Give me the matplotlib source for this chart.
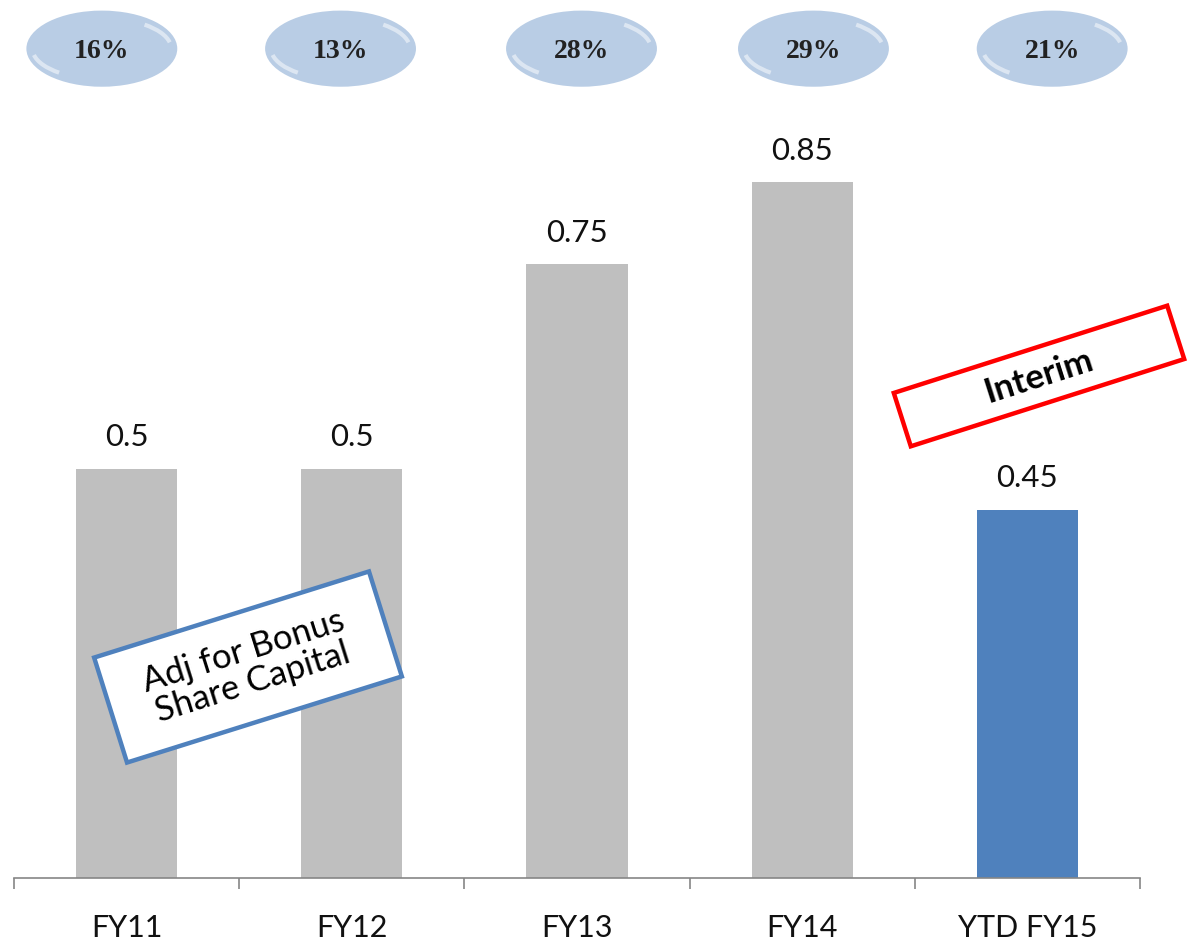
import numpy as np
import matplotlib
matplotlib.use("Agg")
import matplotlib.pyplot as plt
from matplotlib.patches import Ellipse, Arc, Rectangle
from matplotlib.transforms import Affine2D

# dividend per share by year, with growth shown in the bubbles on top
years = ["FY11", "FY12", "FY13", "FY14", "YTD FY15"]
dps = [0.5, 0.5, 0.75, 0.85, 0.45]
dps_labels = ["0.5", "0.5", "0.75", "0.85", "0.45"]
growth = ["16%", "13%", "28%", "29%", "21%"]

bar_colors = ["#BFBFBF", "#BFBFBF", "#BFBFBF", "#BFBFBF", "#4F81BD"]
bubble_shift = [-0.11, -0.05, 0.02, 0.05, 0.11]

W, H = 1191, 952
fig = plt.figure(figsize=(W / 100, H / 100), dpi=100)
ax = fig.add_axes([14 / W, 74 / H, 1126 / W, 876 / H])

x = np.arange(len(years))
ax.bar(x, dps, width=0.45, color=bar_colors, zorder=2)
ax.set_xlim(-0.5, len(years) - 0.5)
ax.set_ylim(0, 1.07)

for xi, v, lab in zip(x, dps, dps_labels):
    ax.text(xi, v + 0.021, lab, ha="center", va="bottom",
            fontsize=22.5, family="Lato", color="#111111")

# growth bubbles
bw, bh, by = 0.67, 0.093, 1.013
gw, gh = bw * 0.92, bh * 0.8
for xi, s, g in zip(x, bubble_shift, growth):
    cx = xi + s
    ax.add_patch(Ellipse((cx, by), bw, bh, facecolor="#B9CDE5",
                         edgecolor="none", clip_on=False, zorder=3))
    # soft gloss along the upper right and lower left rims;
    # Arc wants polar angles in data units, so convert from the
    # ellipse parameter t
    for t1, t2 in [(12, 52), (192, 232)]:
        th1 = np.degrees(np.arctan2(gh * np.sin(np.radians(t1)),
                                    gw * np.cos(np.radians(t1))))
        th2 = np.degrees(np.arctan2(gh * np.sin(np.radians(t2)),
                                    gw * np.cos(np.radians(t2))))
        ax.add_patch(Arc((cx, by), gw, gh, theta1=th1 % 360, theta2=th2 % 360,
                         color="white", lw=3, alpha=0.5, clip_on=False,
                         zorder=4))
    ax.text(cx, by - 0.003, g, ha="center", va="center", fontsize=20,
            family="Liberation Serif", weight="bold", color="#222222", zorder=5)

# axis styling
for side in ["left", "right", "top"]:
    ax.spines[side].set_visible(False)
ax.spines["bottom"].set_color("#868686")
ax.spines["bottom"].set_linewidth(1.2)
ax.set_yticks([])
ax.set_xticks(x)
ax.set_xticklabels(years, fontsize=22, family="Lato", color="#111111")
ax.tick_params(axis="x", which="major", length=0, pad=26)
ax.set_xticks(np.arange(-0.5, len(years)), minor=True)
ax.tick_params(axis="x", which="minor", length=8, width=1.2, color="#868686",
               direction="out")


def tilted_box(cx, cy, w, h, angle, edge, text, weight="normal"):
    # box given in pixels from the top-left corner of the figure
    px_y = H - cy
    tr = Affine2D().rotate_deg_around(cx, px_y, angle) + \
        Affine2D().scale(1 / fig.dpi) + fig.dpi_scale_trans
    fig.patches.append(Rectangle((cx - w / 2, px_y - h / 2), w, h,
                                 facecolor="white", edgecolor=edge, lw=3.2,
                                 transform=tr, zorder=6))
    fig.text(cx / W, px_y / H, text, ha="center", va="center",
             rotation=angle, rotation_mode="anchor", fontsize=25,
             family="Lato", weight=weight, multialignment="center",
             linespacing=1.05, zorder=7)


tilted_box(248, 667, 288, 110, 17.4, "#4F81BD", "Adj for Bonus\nShare Capital")
tilted_box(1039, 376, 287, 56, 17.7, "#FF0000", "Interim", weight="bold")

fig.savefig("out.png", dpi=100)
